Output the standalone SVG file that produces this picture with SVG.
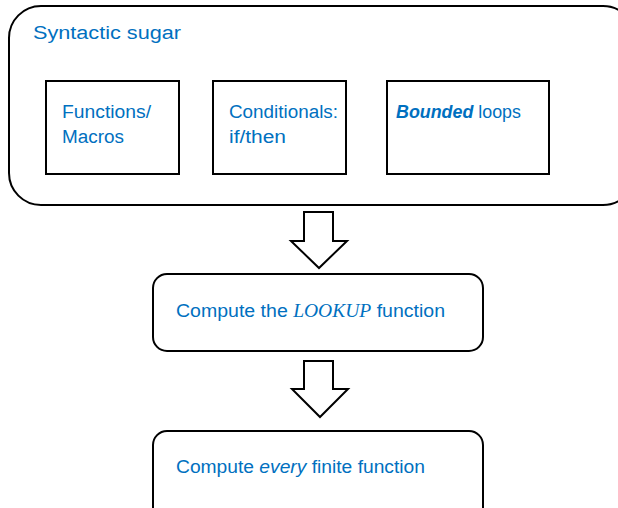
<svg xmlns="http://www.w3.org/2000/svg" width="618" height="508" viewBox="0 0 618 508">
<style>
.box{fill:#fff;stroke:#000;stroke-width:2}
.t{font-family:"Liberation Sans",Arial,sans-serif;fill:#0070C0;font-size:18px}
.arr{fill:#fff;stroke:#000;stroke-width:2;stroke-linejoin:miter}
</style>
<rect width="618" height="508" fill="#fff"/>
<g id="syntactic-sugar">
<rect class="box" x="9" y="6" width="626" height="199" rx="32"/>
<text class="t" x="33" y="39" font-size="22" textLength="148" lengthAdjust="spacingAndGlyphs">Syntactic sugar</text>
</g>
<g id="functions">
<rect class="box" x="46" y="81" width="133" height="93"/>
<text class="t" x="62" y="118" textLength="89" lengthAdjust="spacingAndGlyphs">Functions/</text>
<text class="t" x="62" y="143" textLength="62" lengthAdjust="spacingAndGlyphs">Macros</text>
</g>
<g id="conditionals">
<rect class="box" x="213" y="81" width="133" height="93"/>
<text class="t" x="229" y="118" textLength="109" lengthAdjust="spacingAndGlyphs">Conditionals:</text>
<text class="t" x="229" y="143" textLength="57" lengthAdjust="spacingAndGlyphs">if/then</text>
</g>
<g id="bounded">
<rect class="box" x="387" y="81" width="162" height="93"/>
<text class="t" x="396" y="118" textLength="125" lengthAdjust="spacingAndGlyphs"><tspan font-weight="bold" font-style="italic">Bounded</tspan> loops</text>
</g>
<g id="lookup">
<rect class="box" x="153" y="274" width="330" height="77" rx="14"/>
<text class="t" x="176" y="317" textLength="269" lengthAdjust="spacingAndGlyphs">Compute the <tspan font-family="Liberation Serif,serif" font-style="italic">LOOKUP</tspan> function</text>
</g>
<g id="every">
<rect class="box" x="153" y="431" width="330" height="90" rx="14"/>
<text class="t" x="176" y="473" textLength="249" lengthAdjust="spacingAndGlyphs">Compute <tspan font-style="italic">every</tspan> finite function</text>
</g>
<g id="connectors">
<polygon class="arr" points="304,212 333,212 333,241 347,241 319,268 291,241 304,241"/>
<polygon class="arr" points="304,361 333,361 333,389 348,389 320,417 292,389 304,389"/>
</g>
</svg>
